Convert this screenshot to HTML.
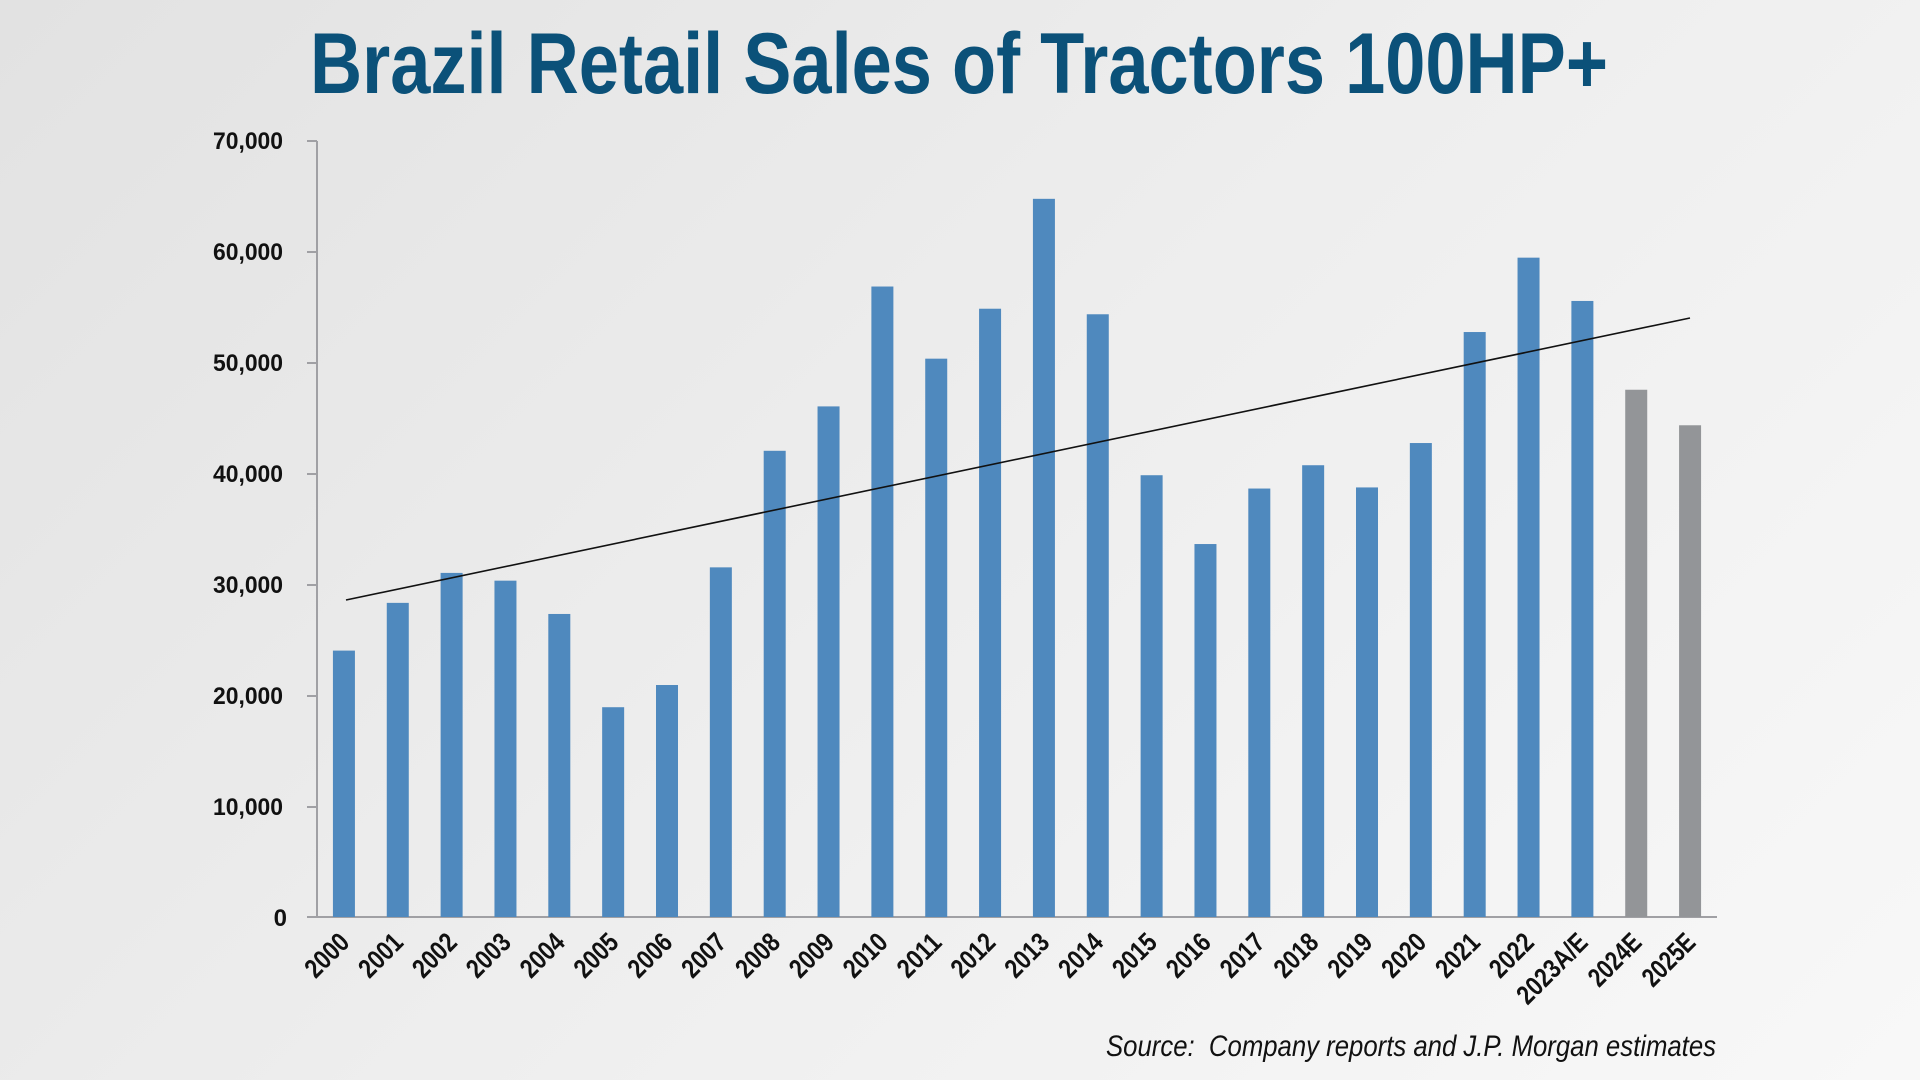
<!DOCTYPE html>
<html><head><meta charset="utf-8"><style>
html,body{margin:0;padding:0;width:1920px;height:1080px;overflow:hidden}
body{background:linear-gradient(135deg,#e2e2e2 0%,#eeeeee 50%,#f8f8f8 100%)}
svg{display:block}
</style></head><body>
<svg width="1920" height="1080" xmlns="http://www.w3.org/2000/svg" font-family="Liberation Sans, sans-serif">
<text x="310" y="93" font-size="86" font-weight="bold" fill="#0b5179" textLength="1298" lengthAdjust="spacingAndGlyphs">Brazil Retail Sales of Tractors 100HP+</text>
<g id="axes" stroke="#a0a0a4" stroke-width="2" fill="none">
<line x1="317" y1="141" x2="317" y2="917"/>
<line x1="307" y1="917" x2="1717" y2="917"/>
<line x1="307" y1="141" x2="317" y2="141"/>
<line x1="307" y1="252" x2="317" y2="252"/>
<line x1="307" y1="363" x2="317" y2="363"/>
<line x1="307" y1="474" x2="317" y2="474"/>
<line x1="307" y1="585" x2="317" y2="585"/>
<line x1="307" y1="696" x2="317" y2="696"/>
<line x1="307" y1="807" x2="317" y2="807"/>
</g>
<g font-size="24" font-weight="bold" fill="#111" text-anchor="end">
<text x="283" y="149" textLength="70" lengthAdjust="spacingAndGlyphs">70,000</text>
<text x="283" y="260" textLength="70" lengthAdjust="spacingAndGlyphs">60,000</text>
<text x="283" y="371" textLength="70" lengthAdjust="spacingAndGlyphs">50,000</text>
<text x="283" y="482" textLength="70" lengthAdjust="spacingAndGlyphs">40,000</text>
<text x="283" y="593" textLength="70" lengthAdjust="spacingAndGlyphs">30,000</text>
<text x="283" y="704" textLength="70" lengthAdjust="spacingAndGlyphs">20,000</text>
<text x="283" y="815" textLength="70" lengthAdjust="spacingAndGlyphs">10,000</text>
<text x="287" y="926">0</text>
</g>
<g id="bars"></g>
<g id="labels" font-size="27" font-weight="bold" fill="#111" text-anchor="end"></g>
<line x1="346" y1="600" x2="1690" y2="318" stroke="#111" stroke-width="1.6"/>
<text x="1716" y="1056" font-size="30" font-style="italic" fill="#111" text-anchor="end" textLength="610" lengthAdjust="spacingAndGlyphs" xml:space="preserve">Source:  Company reports and J.P. Morgan estimates</text>
<script>
var v=[24000,28300,31000,30300,27300,18900,20900,31500,42000,46000,56800,50300,54800,64700,54300,39800,33600,38600,40700,38700,42700,52700,59400,55500,47500,44300];
var L=["2000","2001","2002","2003","2004","2005","2006","2007","2008","2009","2010","2011","2012","2013","2014","2015","2016","2017","2018","2019","2020","2021","2022","2023A/E","2024E","2025E"];
var ns="http://www.w3.org/2000/svg",b=document.getElementById("bars"),lb=document.getElementById("labels");
var step=1400/26;
for(var i=0;i<26;i++){var c=317+step*(i+0.5);var h=v[i]/10000*111;
var r=document.createElementNS(ns,"rect");r.setAttribute("x",c-11);r.setAttribute("y",917-h);r.setAttribute("width",22);r.setAttribute("height",h);r.setAttribute("fill",i>=24?"#939598":"#4f89be");b.appendChild(r);
var t=document.createElementNS(ns,"text");t.setAttribute("transform","translate("+(c+7)+",944) rotate(-45)");t.textContent=L[i];
var w=L[i].length*12.5;t.setAttribute("textLength",w);t.setAttribute("lengthAdjust","spacingAndGlyphs");lb.appendChild(t);}
</script>
</svg>
</body></html>
